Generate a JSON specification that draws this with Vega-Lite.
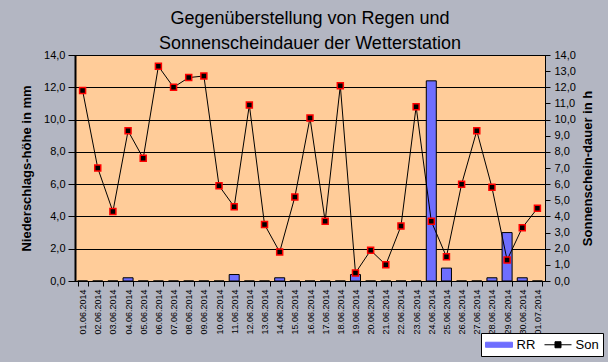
{
  "$schema": "https://vega.github.io/schema/vega-lite/v6.json",
  "autosize": "none",
  "width": 470,
  "height": 226,
  "padding": {"left": 75, "top": 55, "right": 63, "bottom": 81},
  "background": "#b3b6c2",
  "title": {
    "text": ["Gegenüberstellung von Regen und", "Sonnenscheindauer der Wetterstation"],
    "font": "Liberation Sans",
    "fontSize": 18,
    "fontWeight": "normal",
    "lineHeight": 25,
    "color": "black",
    "anchor": "middle",
    "offset": -4
  },
  "config": {
    "view": {"fill": "#ffcc99", "stroke": "black", "strokeWidth": 1},
    "axis": {
      "labelFont": "Liberation Sans",
      "titleFont": "Liberation Sans",
      "labelColor": "black",
      "titleColor": "black",
      "domainColor": "black",
      "tickColor": "black"
    },
    "legend": {
      "orient": "none",
      "legendX": 406,
      "legendY": 278,
      "direction": "horizontal",
      "title": null,
      "fillColor": "white",
      "strokeColor": "black",
      "padding": 4,
      "symbolSize": 196,
      "symbolOffset": 6.5,
      "labelFont": "Liberation Sans",
      "labelFontSize": 13,
      "labelColor": "black",
      "labelOffset": 10,
      "columnPadding": 6
    }
  },
  "data": {"values": [
    {"Datum": "01.06.2014", "RR": 0, "Son": 11.8},
    {"Datum": "02.06.2014", "RR": 0, "Son": 7.0},
    {"Datum": "03.06.2014", "RR": 0, "Son": 4.3},
    {"Datum": "04.06.2014", "RR": 0.2, "Son": 9.3},
    {"Datum": "05.06.2014", "RR": 0, "Son": 7.6},
    {"Datum": "06.06.2014", "RR": 0, "Son": 13.3},
    {"Datum": "07.06.2014", "RR": 0, "Son": 12.0},
    {"Datum": "08.06.2014", "RR": 0, "Son": 12.6},
    {"Datum": "09.06.2014", "RR": 0, "Son": 12.7},
    {"Datum": "10.06.2014", "RR": 0, "Son": 5.9},
    {"Datum": "11.06.2014", "RR": 0.4, "Son": 4.6},
    {"Datum": "12.06.2014", "RR": 0, "Son": 10.9},
    {"Datum": "13.06.2014", "RR": 0, "Son": 3.5},
    {"Datum": "14.06.2014", "RR": 0.2, "Son": 1.8},
    {"Datum": "15.06.2014", "RR": 0, "Son": 5.2},
    {"Datum": "16.06.2014", "RR": 0, "Son": 10.1},
    {"Datum": "17.06.2014", "RR": 0, "Son": 3.7},
    {"Datum": "18.06.2014", "RR": 0, "Son": 12.1},
    {"Datum": "19.06.2014", "RR": 0.4, "Son": 0.5},
    {"Datum": "20.06.2014", "RR": 0, "Son": 1.9},
    {"Datum": "21.06.2014", "RR": 0, "Son": 1.0},
    {"Datum": "22.06.2014", "RR": 0, "Son": 3.4},
    {"Datum": "23.06.2014", "RR": 0, "Son": 10.8},
    {"Datum": "24.06.2014", "RR": 12.4, "Son": 3.7},
    {"Datum": "25.06.2014", "RR": 0.8, "Son": 1.5},
    {"Datum": "26.06.2014", "RR": 0, "Son": 6.0},
    {"Datum": "27.06.2014", "RR": 0, "Son": 9.3},
    {"Datum": "28.06.2014", "RR": 0.2, "Son": 5.8},
    {"Datum": "29.06.2014", "RR": 3.0, "Son": 1.3},
    {"Datum": "30.06.2014", "RR": 0.2, "Son": 3.3},
    {"Datum": "01.07.2014", "RR": 0, "Son": 4.5}
  ]},
  "encoding": {
    "x": {
      "field": "Datum",
      "type": "nominal",
      "sort": null,
      "scale": {"paddingInner": 0.34, "paddingOuter": 0.17},
      "axis": {
        "title": null,
        "labelAngle": 270,
        "labelFontSize": 9,
        "labelPadding": 3,
        "tickBand": "extent",
        "tickSize": 5,
        "domainWidth": 1
      }
    }
  },
  "layer": [
    {
      "mark": {"type": "bar", "stroke": "black", "strokeWidth": 1},
      "encoding": {
        "y": {
          "field": "RR",
          "type": "quantitative",
          "scale": {"domain": [0, 14], "nice": false},
          "axis": {
            "title": "Niederschlags-höhe in mm",
            "titleFontSize": 13,
            "titleFontWeight": "bold",
            "titlePadding": 10,
            "values": [0, 2, 4, 6, 8, 10, 12, 14],
            "labelExpr": "replace(format(datum.value, '.1f'), '.', ',')",
            "labelFontSize": 11,
            "labelPadding": 3,
            "tickSize": 7,
            "domainWidth": 2,
            "grid": true,
            "gridColor": "black",
            "gridOpacity": 1,
            "gridWidth": 1
          }
        },
        "color": {
          "datum": "RR",
          "scale": {"domain": ["RR", "Son"], "range": ["#6e6eff", "black"]},
          "legend": {
            "encode": {
              "symbols": {
                "update": {
                  "shape": {"signal": "datum.value === 'RR' ? 'M-1.93,-0.36H1.93V0.36H-1.93Z' : 'M-1.93,0H1.93M-0.43,-0.43H0.43V0.43H-0.43Z'"},
                  "fill": {"signal": "datum.value === 'RR' ? '#6e6eff' : 'black'"},
                  "stroke": {"value": "black"},
                  "strokeWidth": {"value": 1},
                  "opacity": {"value": 1}
                }
              }
            }
          }
        }
      }
    },
    {
      "mark": {"type": "line", "strokeWidth": 1},
      "encoding": {
        "y": {
          "field": "Son",
          "type": "quantitative",
          "scale": {"domain": [0, 14], "nice": false},
          "axis": {
            "orient": "right",
            "title": "Sonnenschein-dauer in h",
            "titleAngle": 270,
            "titleBaseline": "top",
            "titleFontSize": 13,
            "titleFontWeight": "bold",
            "titlePadding": 6,
            "values": [0, 1, 2, 3, 4, 5, 6, 7, 8, 9, 10, 11, 12, 13, 14],
            "labelExpr": "replace(format(datum.value, '.1f'), '.', ',')",
            "labelFontSize": 11,
            "labelPadding": 4,
            "tickSize": 5,
            "grid": false,
            "domainWidth": 1
          }
        },
        "color": {
          "datum": "Son",
          "legend": {
            "encode": {
              "symbols": {
                "update": {
                  "shape": {"signal": "datum.value === 'RR' ? 'M-1.93,-0.36H1.93V0.36H-1.93Z' : 'M-1.93,0H1.93M-0.43,-0.43H0.43V0.43H-0.43Z'"},
                  "fill": {"signal": "datum.value === 'RR' ? '#6e6eff' : 'black'"},
                  "stroke": {"value": "black"},
                  "strokeWidth": {"value": 1},
                  "opacity": {"value": 1}
                }
              }
            }
          }
        }
      }
    },
    {
      "mark": {"type": "point", "shape": "square", "size": 36, "filled": true, "fill": "black", "stroke": "red", "strokeWidth": 1.5, "opacity": 1},
      "encoding": {
        "y": {"field": "Son", "type": "quantitative", "axis": null}
      }
    }
  ],
  "resolve": {"scale": {"y": "independent"}}
}
